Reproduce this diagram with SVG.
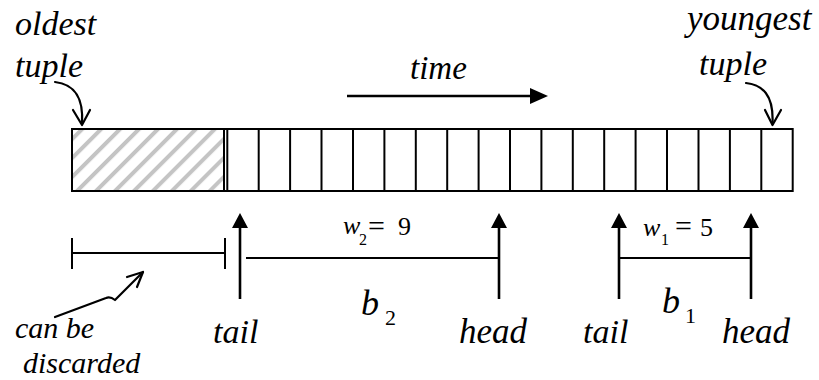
<svg xmlns="http://www.w3.org/2000/svg" width="819" height="380" viewBox="0 0 819 380">
<style>
.t{font-style:italic;fill:#000}
.u{fill:#000}
.ln{stroke:#000;stroke-width:2;fill:none}
.thick{stroke:#000;stroke-width:2.6;fill:none}
.cur{stroke:#000;stroke-width:2.2;fill:none;stroke-linecap:round;stroke-linejoin:round}
.cell{stroke:#000;stroke-width:2;fill:none}
</style>
<defs>
<pattern id="hatch" patternUnits="userSpaceOnUse" width="13.4" height="20" patternTransform="rotate(45)">
<rect x="0" y="0" width="4" height="20" fill="#c4c4c4"/>
</pattern>
</defs>
<rect width="819" height="380" fill="#fff"/>

<g id="strip">
<rect x="72" y="129" width="152" height="62" fill="url(#hatch)"/>
<rect x="72" y="129" width="720.7" height="62" class="cell"/>
<line x1="224" y1="129" x2="224" y2="191" class="cell"/>
<line x1="227.3" y1="129" x2="227.3" y2="191" class="cell"/>
<line x1="258.7" y1="129" x2="258.7" y2="191" class="cell"/>
<line x1="290.1" y1="129" x2="290.1" y2="191" class="cell"/>
<line x1="321.5" y1="129" x2="321.5" y2="191" class="cell"/>
<line x1="353" y1="129" x2="353" y2="191" class="cell"/>
<line x1="384.4" y1="129" x2="384.4" y2="191" class="cell"/>
<line x1="415.8" y1="129" x2="415.8" y2="191" class="cell"/>
<line x1="447.2" y1="129" x2="447.2" y2="191" class="cell"/>
<line x1="478.6" y1="129" x2="478.6" y2="191" class="cell"/>
<line x1="510" y1="129" x2="510" y2="191" class="cell"/>
<line x1="541.4" y1="129" x2="541.4" y2="191" class="cell"/>
<line x1="572.8" y1="129" x2="572.8" y2="191" class="cell"/>
<line x1="604.2" y1="129" x2="604.2" y2="191" class="cell"/>
<line x1="635.6" y1="129" x2="635.6" y2="191" class="cell"/>
<line x1="667" y1="129" x2="667" y2="191" class="cell"/>
<line x1="698.5" y1="129" x2="698.5" y2="191" class="cell"/>
<line x1="729.9" y1="129" x2="729.9" y2="191" class="cell"/>
<line x1="761.3" y1="129" x2="761.3" y2="191" class="cell"/>
</g>

<g font-family="Liberation Serif, Times New Roman, serif">
<g id="oldest">
<text class="t" x="15" y="35" font-size="34">oldest</text>
<text class="t" x="15" y="77" font-size="34">tuple</text>
</g>
<g id="youngest">
<text class="t" x="687" y="30" font-size="35">youngest</text>
<text class="t" x="699" y="75" font-size="34">tuple</text>
</g>
<g id="time">
<text class="t" x="410" y="79" font-size="33">time</text>
</g>
<g id="discard">
<text class="t" x="15" y="338" font-size="30">can be</text>
<text class="t" x="23" y="373" font-size="30">discarded</text>
</g>
<g id="tail2"><text class="t" x="213" y="343" font-size="34">tail</text></g>
<g id="head2"><text class="t" x="459" y="343" font-size="35">head</text></g>
<g id="tail1"><text class="t" x="583" y="343" font-size="34">tail</text></g>
<g id="head1"><text class="t" x="722" y="343" font-size="35">head</text></g>
<g id="w2">
<text class="t" x="343" y="234" font-size="26">w</text>
<text class="u" x="359" y="245" font-size="16">2</text>
<text class="u" x="368" y="236" font-size="30">=</text>
<text class="u" x="398" y="235" font-size="26">9</text>
</g>
<g id="w1">
<text class="t" x="643" y="236" font-size="26">w</text>
<text class="u" x="661" y="245" font-size="16">1</text>
<text class="u" x="675" y="236" font-size="30">=</text>
<text class="u" x="700" y="236" font-size="26">5</text>
</g>
<g id="b2">
<text class="t" x="361" y="315" font-size="36">b</text>
<text class="u" x="385" y="325" font-size="22">2</text>
</g>
<g id="b1">
<text class="t" x="662" y="313" font-size="36">b</text>
<text class="u" x="685" y="323" font-size="22">1</text>
</g>
</g>

<g id="connectors">
<path class="cur" d="M55,82 C72,84 84,94 82,124"/>
<path class="cur" d="M73,110 L82,125 L90,110"/>
<path class="cur" d="M746,83 C762,85 774,94 772.5,124"/>
<path class="cur" d="M765,110 L772.5,125 L781,110"/>
<path class="cur" d="M55,317 L106,298 Q110,296 115,300 L143,272"/>
<path class="cur" d="M127,277 L143,272 L137,287"/>
<line x1="347" y1="96" x2="532" y2="96" class="thick"/>
<polygon points="548,96 530,88 530,104" fill="#000"/>
<line x1="72" y1="253" x2="225" y2="253" class="ln"/>
<line x1="72" y1="238" x2="72" y2="269" class="ln"/>
<line x1="225" y1="238" x2="225" y2="269" class="ln"/>
<line x1="246" y1="258" x2="499" y2="258" class="ln"/>
<line x1="619" y1="258" x2="751" y2="258" class="ln"/>
<line x1="240" y1="226" x2="240" y2="299" class="thick"/>
<polygon points="240,213 232,228 248,228" fill="#000"/>
<line x1="499" y1="226" x2="499" y2="299" class="thick"/>
<polygon points="499,213 491,228 507,228" fill="#000"/>
<line x1="619" y1="226" x2="619" y2="299" class="thick"/>
<polygon points="619,213 611,228 627,228" fill="#000"/>
<line x1="751" y1="226" x2="751" y2="299" class="thick"/>
<polygon points="751,213 743,228 759,228" fill="#000"/>
</g>
</svg>
